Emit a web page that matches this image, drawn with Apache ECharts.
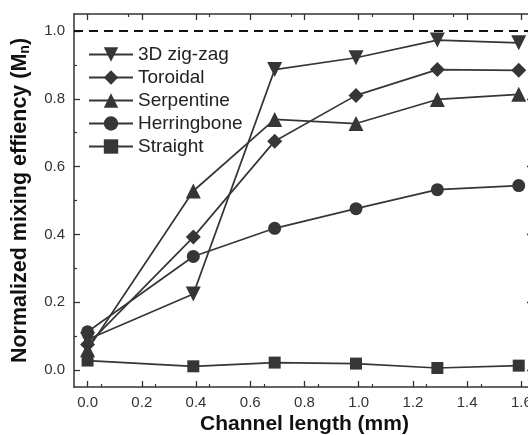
<!DOCTYPE html>
<html>
<head>
<meta charset="utf-8">
<script src="https://cdn.jsdelivr.net/npm/echarts@6/dist/echarts.min.js"></script>
<style>
  html, body { margin: 0; padding: 0; background: #fff; }
  #chart { width: 528px; height: 435px; }
</style>
</head>
<body>
<div id="chart"></div>
<script>
// channel length (mm)
const lengths = [0, 0.39, 0.69, 0.99, 1.29, 1.59];

// mixing efficiency per design
const zigzag = [0.09, 0.224, 0.886, 0.921, 0.973, 0.965];
const toroidal = [0.075, 0.392, 0.675, 0.81, 0.886, 0.884];
const serpentine = [0.06, 0.528, 0.739, 0.727, 0.798, 0.813];
const herringbone = [0.113, 0.335, 0.418, 0.476, 0.532, 0.544];
const straight = [0.028, 0.011, 0.022, 0.019, 0.006, 0.013];

const seriesNames = ['3D zig-zag', 'Toroidal', 'Serpentine', 'Herringbone', 'Straight'];
const xTicks = [0, 0.2, 0.4, 0.6, 0.8, 1.0, 1.2, 1.4, 1.6];
const yTicks = [0, 0.2, 0.4, 0.6, 0.8, 1.0];

const chart = echarts.init(document.getElementById('chart'));

const ink = '#363636';

function pairs(vals) {
    return lengths.map(function (x, i) { return [x, vals[i]]; });
}

function makeSeries(name, vals, symbol, size, rotate) {
    return {
        name: name,
        type: 'line',
        data: pairs(vals),
        symbol: symbol,
        symbolSize: size,
        symbolRotate: rotate || 0,
        showAllSymbol: true,
        lineStyle: { color: ink, width: 1.7 },
        itemStyle: { color: ink, borderWidth: 0 },
        emphasis: { disabled: true },
        animation: false
    };
}

const axisCommon = {
    type: 'value',
    nameMoveOverlap: false,
    axisLine: { show: true, onZero: false, lineStyle: { color: '#333', width: 1.5 } },
    axisTick: { show: true, inside: true, length: 6, lineStyle: { color: '#333', width: 1.3 } },
    minorTick: { show: true, splitNumber: 2, length: 3, lineStyle: { color: '#333', width: 1.2 } },
    splitLine: { show: false }
};

const series = [
    makeSeries(seriesNames[0], zigzag, 'triangle', 15, 180),
    makeSeries(seriesNames[1], toroidal, 'diamond', [15, 15]),
    makeSeries(seriesNames[2], serpentine, 'triangle', 15),
    makeSeries(seriesNames[3], herringbone, 'circle', 13),
    makeSeries(seriesNames[4], straight, 'rect', 12)
];

// dashed reference line at M = 1.0
series[0].markLine = {
    silent: true,
    symbol: 'none',
    label: { show: false },
    lineStyle: { color: '#111', type: [9, 6], width: 1.8 },
    data: [{ yAxis: 1.0 }]
};

chart.setOption({
    backgroundColor: '#fff',
    animation: false,
    textStyle: { fontFamily: 'Liberation Sans, Arial, sans-serif' },
    grid: {
        left: 74, top: 14, right: -7, bottom: 48,
        containLabel: false,
        outerBoundsMode: 'none'
    },
    legend: {
        orient: 'vertical',
        left: 83,
        top: 40,
        itemWidth: 44,
        itemHeight: 18,
        itemGap: 4,
        data: seriesNames,
        textStyle: { fontSize: 19, color: '#222' }
    },
    xAxis: [
        Object.assign({}, axisCommon, {
            min: -0.05,
            max: 1.65,
            interval: 0.2,
            position: 'bottom',
            name: 'Channel length (mm)',
            nameLocation: 'middle',
            nameGap: 27,
            nameTextStyle: { fontSize: 21, fontWeight: 'bold', color: '#111' },
            axisLabel: {
                fontSize: 15,
                color: '#333',
                margin: 8,
                customValues: xTicks,
                formatter: function (v) { return v.toFixed(1); }
            },
            axisTick: Object.assign({}, axisCommon.axisTick, { customValues: xTicks })
        }),
        Object.assign({}, axisCommon, {
            min: -0.05,
            max: 1.65,
            position: 'top',
            axisLabel: { show: false },
            axisTick: Object.assign({}, axisCommon.axisTick, { customValues: xTicks })
        })
    ],
    yAxis: [
        Object.assign({}, axisCommon, {
            min: -0.05,
            max: 1.05,
            position: 'left',
            name: 'Normalized mixing effiency (M{sub|n})',
            nameLocation: 'middle',
            nameGap: 42,
            nameTextStyle: {
                fontSize: 21.5,
                fontWeight: 'bold',
                color: '#111',
                rich: {
                    sub: { fontSize: 14, fontWeight: 'bold', color: '#111', verticalAlign: 'bottom', padding: [9, 0, 0, 0] }
                }
            },
            axisLabel: {
                fontSize: 15,
                color: '#333',
                margin: 9,
                customValues: yTicks,
                formatter: function (v) { return v.toFixed(1); }
            },
            axisTick: Object.assign({}, axisCommon.axisTick, { customValues: yTicks })
        }),
        Object.assign({}, axisCommon, {
            min: -0.05,
            max: 1.05,
            position: 'right',
            axisLabel: { show: false },
            axisTick: Object.assign({}, axisCommon.axisTick, { length: 8, customValues: yTicks })
        })
    ],
    series: series
});
</script>
</body>
</html>
